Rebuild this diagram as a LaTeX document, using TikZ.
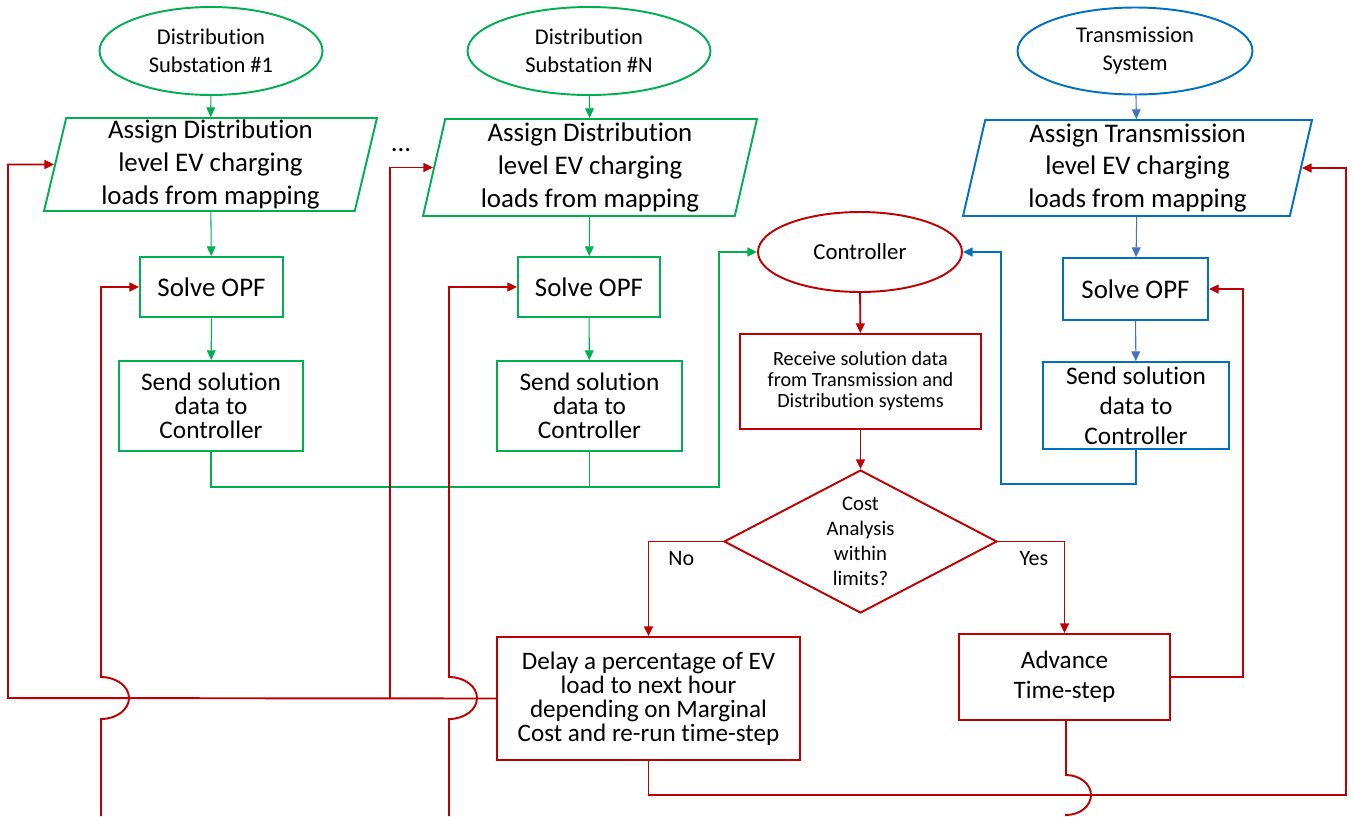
\documentclass[tikz,border=0pt]{standalone}
\usepackage{fontspec}
\setmainfont[Ligatures=CommonOff]{Carlito}
\usetikzlibrary{shapes.geometric,arrows.meta}
\definecolor{grn}{RGB}{0,176,80}
\definecolor{blu}{RGB}{0,112,192}
\definecolor{lblu}{RGB}{68,114,196}
\definecolor{rd}{RGB}{192,0,0}
\tikzset{
    every node/.style={align=center,inner sep=0pt},
    term/.style={ellipse,draw,line width=1.1pt,font=\fontsize{12.8}{15.9}\selectfont},
    io/.style={trapezium,trapezium left angle=76,trapezium right angle=104,trapezium stretches body,
        draw,line width=1.1pt,font=\fontsize{15.3}{18.7}\selectfont},
    proc/.style={rectangle,draw,line width=1.1pt},
    flow/.style={line width=1.1pt,-{Triangle[length=5.5pt,width=5pt]}},
    thinflow/.style={line width=0.6pt,-{Triangle[length=5.5pt,width=5pt]}},
    hop/.style={x radius=0.56cm,y radius=0.42cm},
    answer/.style={text=black,font=\fontsize{12.5}{15}\selectfont}
}
\begin{document}
\begin{tikzpicture}[x=0.02cm,y=-0.02cm]
    \useasboundingbox (0,0) rectangle (1354,816);
    % sources
    \node[term,draw=grn,minimum width=4.46cm,minimum height=1.76cm] (src1) at (211,51) {Distribution\\Substation \#1};
    \node[term,draw=grn,minimum width=4.86cm,minimum height=1.76cm] (srcN) at (589,51) {Distribution\\Substation \#N};
    \node[term,draw=blu,minimum width=4.70cm,minimum height=1.74cm] (srcT) at (1135,51) {Transmission\\System};
    % load assignment
    \node[io,draw=grn,minimum width=6.66cm,minimum height=1.86cm] (par1) at (210.5,164.5) {Assign Distribution\\level EV charging\\loads from mapping};
    \node[io,draw=grn,minimum width=6.68cm,minimum height=1.94cm] (parN) at (590,167.5) {Assign Distribution\\level EV charging\\loads from mapping};
    \node[io,draw=blu,minimum width=6.98cm,minimum height=1.92cm] (parT) at (1137.5,168) {Assign Transmission\\level EV charging\\loads from mapping};
    \node[font=\fontsize{15.3}{18.7}\selectfont] (dots) at (401,150) {...};
    % opf
    \node[proc,draw=grn,minimum width=2.86cm,minimum height=1.2cm,font=\fontsize{15.3}{18.7}\selectfont] (opf1) at (211.5,287) {Solve OPF};
    \node[proc,draw=grn,minimum width=2.84cm,minimum height=1.2cm,font=\fontsize{15.3}{18.7}\selectfont] (opfN) at (589,287) {Solve OPF};
    \node[proc,draw=blu,minimum width=2.9cm,minimum height=1.24cm,font=\fontsize{15.3}{18.7}\selectfont] (opfT) at (1135.5,289) {Solve OPF};
    \node[proc,draw=grn,minimum width=3.68cm,minimum height=1.8cm,font=\fontsize{14.4}{13.6}\selectfont] (send1) at (211,406) {Send solution\\data to\\Controller};
    \node[proc,draw=grn,minimum width=3.7cm,minimum height=1.8cm,font=\fontsize{14.4}{13.6}\selectfont] (sendN) at (589.5,406) {Send solution\\data to\\Controller};
    \node[proc,draw=blu,minimum width=3.72cm,minimum height=1.74cm,font=\fontsize{14.4}{17}\selectfont] (sendT) at (1136,405.5) {Send solution\\data to\\Controller};
    % controller side
    \node[term,draw=rd,minimum width=4.08cm,minimum height=1.6cm,font=\fontsize{13}{15.9}\selectfont] (ctrl) at (860,252) {Controller};
    \node[proc,draw=rd,minimum width=4.82cm,minimum height=1.9cm,font=\fontsize{11.5}{12}\selectfont] (recv) at (860.5,381.5) {Receive solution data\\from Transmission and\\Distribution systems};
    \node[diamond,draw=rd,line width=1.1pt,minimum width=5.46cm,minimum height=2.86cm] (dia) at (860.5,541.5) {};
    \node[font=\fontsize{11.8}{14.3}\selectfont] (diatxt) at (dia) {Cost\\Analysis\\within\\limits?};
    \node[proc,draw=rd,minimum width=6.06cm,minimum height=2.46cm,font=\fontsize{14.3}{13.6}\selectfont] (delay) at (648.5,698.5) {Delay a percentage of EV\\load to next hour\\depending on Marginal\\Cost and re-run time-step};
    \node[proc,draw=rd,minimum width=4.22cm,minimum height=1.72cm,font=\fontsize{14.3}{17}\selectfont] (adv) at (1064.5,677) {Advance\\Time-step};
    \coordinate (b1) at (101,816);
    \coordinate (bN) at (449,816);
    \coordinate (bA) at (1066,816);
    \coordinate (jn) at (390,698);
    % thin arrows
    \draw[thinflow,grn] (src1) -- (par1);
    \draw[thinflow,grn] (par1) -- (opf1);
    \draw[thinflow,grn] (opf1) -- (send1);
    \draw[thinflow,grn] (srcN) -- (parN);
    \draw[thinflow,grn] (parN) -- (opfN);
    \draw[thinflow,grn] (opfN) -- (sendN);
    \draw[thinflow,lblu] (srcT) -- (parT);
    \draw[thinflow,lblu] (parT) -- (opfT);
    \draw[thinflow,lblu] (opfT) -- (sendT);
    % to the controller
    \draw[flow,grn] (send1.south) |- (719,487) |- (ctrl.west);
    \draw[line width=1.1pt,grn] (sendN.south) -- (sendN.south |- 0,487);
    \draw[flow,blu] (sendT.south) |- (1001,484) |- (ctrl.east);
    \draw[flow,rd] (ctrl) -- (recv);
    \draw[flow,rd] (recv) -- (dia);
    \draw[flow,rd] (dia.west) -| node[pos=0.28,below=5pt,answer] (no) {No} (delay.north);
    \draw[flow,rd] (dia.east) -| node[pos=0.27,below=5pt,answer] (yes) {Yes} (adv.north);
    % feedback loops
    \draw[flow,rd] (adv.east) -- (1243,677) |- (opfT.east);
    \draw[flow,rd] (delay.south) |- (1346,795) |- (parT.east);
    \draw[flow,rd] (delay.west) -- (8,698) |- (par1.west);
    \draw[flow,rd] (jn) |- (parN.west);
    \draw[flow,rd] (b1) -- (101,719) arc[start angle=-90,end angle=90,hop] |- (opf1.west);
    \draw[flow,rd] (bN) -- (449,719) arc[start angle=-90,end angle=90,hop] |- (opfN.west);
    \draw[line width=1.1pt,rd] (adv.south -| bA) -- (1066,775) arc[start angle=90,end angle=-90,x radius=0.5cm,y radius=0.4cm] -- (bA);
\end{tikzpicture}
\end{document}
